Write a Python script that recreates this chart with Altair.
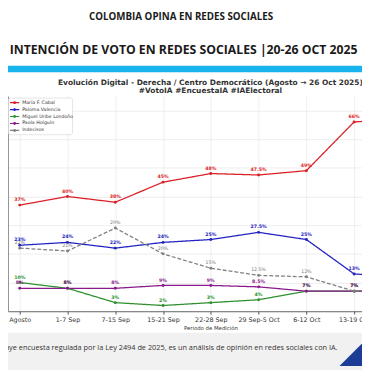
import json
import altair as alt
import pandas as pd

# ---------------- data ----------------
periodos = ["Agosto", "1-7 Sep", "7-15 Sep", "15-21 Sep", "22-28 Sep",
            "29 Sep-5 Oct", "6-12 Oct", "13-19 Oct", "20-26 Oct"]
series = ["María F. Cabal", "Paloma Valencia", "Miguel Uribe Londoño",
          "Paola Holguín", "Indecisos"]
colores = ["#dc1f26", "#2323c2", "#2e912e", "#8a1a8c", "#808080"]
cabal = [37, 40, 38, 45, 48, 47.5, 49, 66, 67]
valencia = [23, 24, 22, 24, 25, 27.5, 25, 13, 12]
uribe = [10, 8, 3, 2, 3, 4, 7, 7, 7]
holguin = [8, 8, 8, 9, 9, 8.5, 7, 7, 7]
indecisos = [22, 21, 29, 20, 15, 12.5, 12, 7, 7]
valores = [cabal, valencia, uribe, holguin, indecisos]

rows = []
for s, vals in zip(series, valores):
    for i, v in enumerate(vals):
        rows.append({"serie": s, "idx": i, "valor": v, "lab": f"{v:g}%"})
df = pd.DataFrame(rows)
ley = pd.DataFrame({"serie": series, "k": list(range(len(series)))})

# ---------------- layout (plot area = 362 x 220, origin at page (8, 94)) ----------------
W, H = 362, 220
PX_PER_IDX = 48.85
x0 = -12 / PX_PER_IDX
x1 = x0 + W / PX_PER_IDX

xscale = alt.Scale(domain=[x0, x1], nice=False, zero=False)
yscale = alt.Scale(domain=[0, 75], nice=False, zero=True)
cscale = alt.Scale(domain=series, range=colores)
color = alt.Color("serie:N", scale=cscale, legend=None)
dash = alt.StrokeDash("serie:N", scale=alt.Scale(
    domain=series, range=[[1, 0], [1, 0], [1, 0], [1, 0], [4, 2]]), legend=None)

label_expr = json.dumps(periodos) + "[datum.value]"
xenc = alt.X("idx:Q", scale=xscale,
             axis=alt.Axis(values=list(range(8)), labelExpr=label_expr,
                           title="Periodo de Medición", titleFontSize=5.5,
                           titleFont="DejaVu Sans", titleFontWeight="normal",
                           titleColor="#333", titleX=207, titleY=17,
                           titleAnchor="start", titleAlign="center", titleBaseline="middle",
                           labelFont="DejaVu Sans", labelFontSize=6.5, labelColor="#333",
                           labelPadding=2, tickSize=3, tickColor="#555",
                           labelFlush=False, labelOverlap=False,
                           domainColor="#444", domainWidth=0.8,
                           grid=True, gridColor="#e6e6e6", gridWidth=0.7))
yenc_axis = alt.Y("valor:Q", scale=yscale,
                  axis=alt.Axis(values=list(range(0, 80, 10)), labels=False, ticks=False,
                                title=None, domainColor="#777", domainWidth=0.8,
                                grid=True, gridColor="#e6e6e6", gridWidth=0.7))
yenc = alt.Y("valor:Q", scale=yscale, axis=None)

lineas = alt.Chart(df).mark_line(clip=True, strokeWidth=1.3).encode(
    x=xenc, y=yenc_axis, color=color, strokeDash=dash)
puntos = alt.Chart(df).mark_point(filled=True, size=9, clip=True, opacity=1).encode(
    x=xenc, y=yenc, color=color)
etiquetas = alt.Chart(df).transform_filter(alt.datum.serie != "Indecisos").mark_text(
    dy=-5, fontSize=4.8, font="DejaVu Sans", fontWeight="bold", clip=True).encode(
    x=xenc, y=yenc, text="lab:N", color=color)
etiquetas_ind = alt.Chart(df).transform_filter(alt.datum.serie == "Indecisos").mark_text(
    dy=-5, fontSize=4.8, font="DejaVu Sans", clip=True).encode(
    x=xenc, y=yenc, text="lab:N", color=color)

# ---------------- legend (inside plot, top-left) ----------------
one = pd.DataFrame({"a": [0]})
ky = alt.Y("k:Q", scale=alt.Scale(domain=[0, 4], range=[6.7, 35.1]), axis=None)
ley_box = alt.Chart(one).mark_rect(fill="white", stroke="#d2d2d2", strokeWidth=0.6,
                                   cornerRadius=2).encode(
    x=alt.value(0.5), x2=alt.value(66), y=alt.value(2), y2=alt.value(39.5))
ley_line = alt.Chart(ley).mark_rule(strokeWidth=1.2).encode(
    x=alt.value(2), x2=alt.value(11.5), y=ky, color=color, strokeDash=dash)
ley_dot = alt.Chart(ley).mark_point(filled=True, size=9, opacity=1).encode(
    x=alt.value(6.75), y=ky, color=color)
ley_txt = alt.Chart(ley).mark_text(align="left", baseline="middle", fontSize=4.8,
                                   font="DejaVu Sans", color="#333").encode(
    x=alt.value(14.5), y=ky, text="serie:N")

# ---------------- decorative header / footer ----------------
footer_bg = alt.Chart(one).mark_rect(color="#f1f1f1").encode(
    x=alt.value(0), x2=alt.value(W), y=alt.value(242), y2=alt.value(280))
cyan_bar = alt.Chart(one).mark_rect(color="#19b4ee").encode(
    x=alt.value(0), x2=alt.value(W), y=alt.value(-31), y2=alt.value(-24.5))

def texto(t, x, y, size, font, weight="normal", color="#222", align="center"):
    return alt.Chart(pd.DataFrame({"t": [t]})).mark_text(
        fontSize=size, font=font, fontWeight=weight, color=color,
        align=align, baseline="middle").encode(
        x=alt.value(x), y=alt.value(y), text="t:N")

h1 = texto("COLOMBIA OPINA EN REDES SOCIALES", 177, -81, 10,
           "Open Sans", "bold", "#1a1a1a")
h2 = texto("INTENCIÓN DE VOTO EN REDES SOCIALES |20-26 OCT 2025", 179.5, -47, 12.5,
           "Open Sans", "bold", "#1a1a1a")
t1 = texto("Evolución Digital - Derecha / Centro Democrático (Agosto → 26 Oct 2025)",
           207, -13, 7.6, "DejaVu Sans", "bold", "#333")
t2 = texto("#VotoIA #EncuestaIA #IAElectoral", 207, -5, 7.6, "DejaVu Sans", "bold", "#333")
nota = texto("Este estudio no constituye encuesta regulada por la Ley 2494 de 2025, "
             "es un análisis de opinión en redes sociales con IA.",
             337, 258, 7.5, "Open Sans", "normal", "#333", align="right")
triangulo = alt.Chart(one).mark_point(
    shape="M1,-1L1,1L-1,1Z", filled=True, size=576, color="#1b3d96", opacity=1).encode(
    x=alt.value(351), y=alt.value(264))

chart = alt.layer(
    footer_bg, cyan_bar, h1, h2, t1, t2, nota, triangulo,
    lineas, puntos, etiquetas_ind, etiquetas,
    ley_box, ley_line, ley_dot, ley_txt
).resolve_scale(y="independent").properties(
    width=W, height=H,
    autosize=alt.AutoSizeParams(type="none"),
    padding={"left": 0, "top": 86, "right": 0, "bottom": 56},
    background="white",
).configure_view(stroke=None)

chart.save("out.html", embed_options={"renderer": "svg", "actions": False})
